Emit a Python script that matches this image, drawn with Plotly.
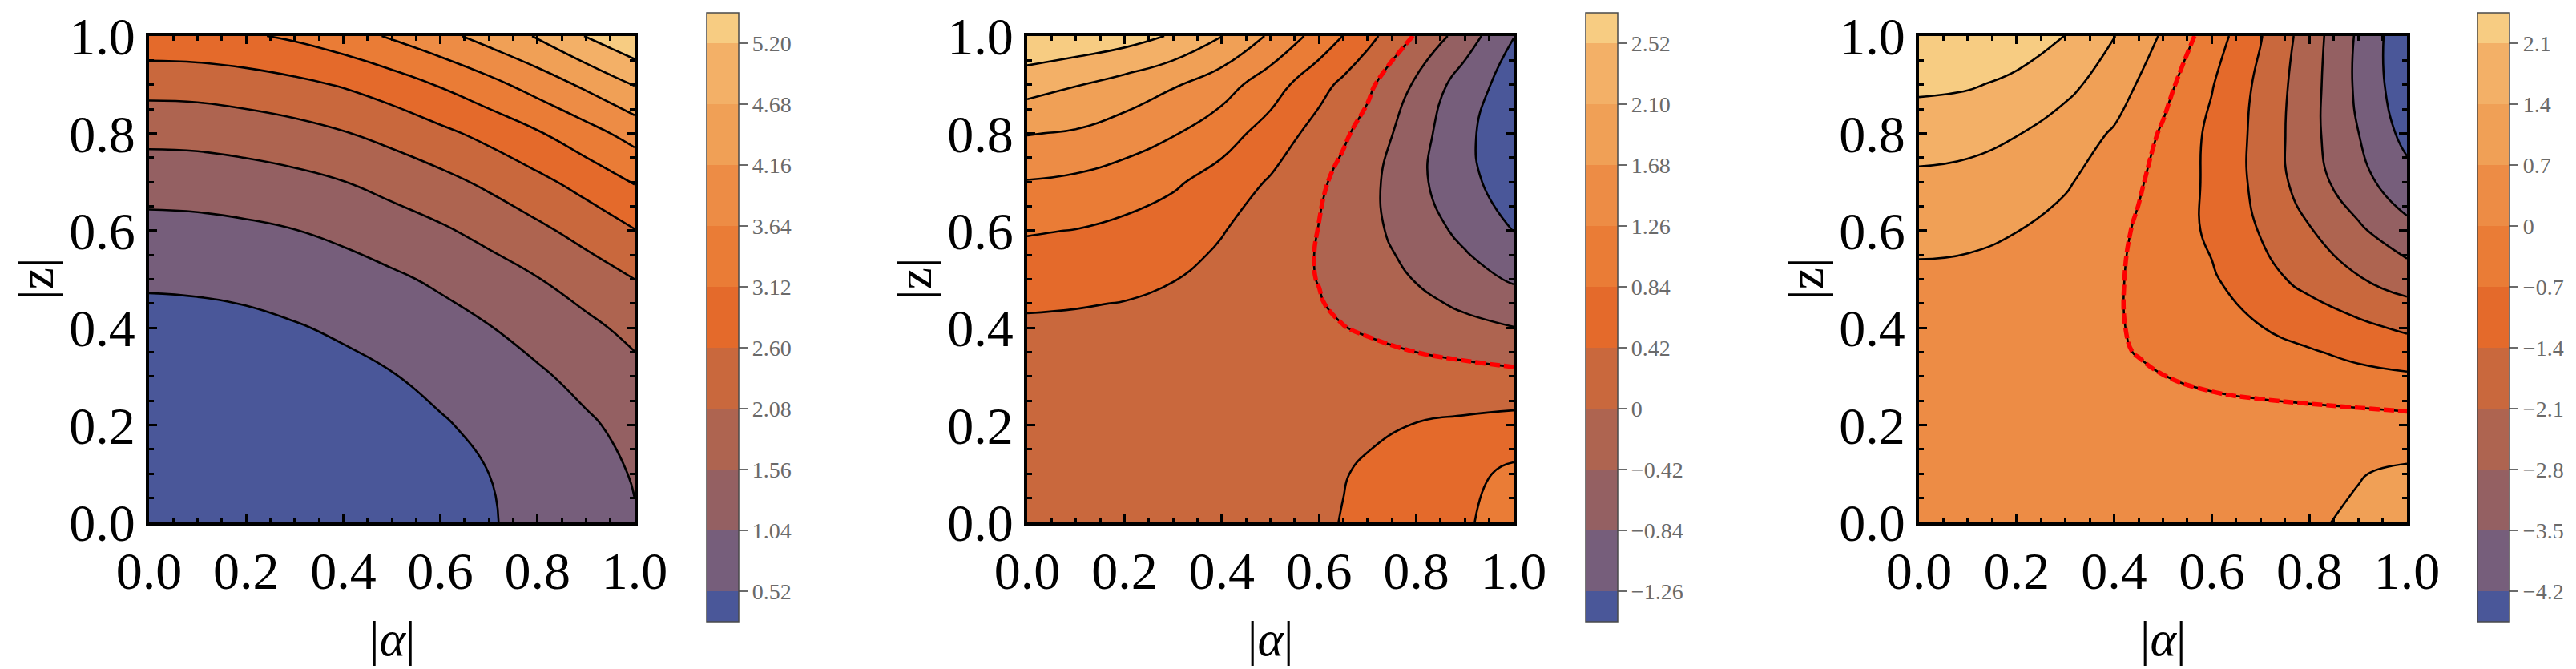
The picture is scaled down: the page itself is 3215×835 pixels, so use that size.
import plotly.graph_objects as go

# ---------------- data ----------------
# panel 1 grid
alpha1 = [0.0, 0.1, 0.2, 0.3, 0.4, 0.5, 0.6, 0.7, 0.8, 0.9, 1.0]
zgrid1 = [0.0, 0.1, 0.2, 0.3, 0.4, 0.5, 0.6, 0.7, 0.8, 0.9, 1.0]
# rows: |z| values of zgrid1 ; columns: |alpha| values of alpha1
panel1_values = [
    [0.00, 0.01, 0.04, 0.09, 0.16, 0.25, 0.36, 0.49, 0.64, 0.81, 1.01],
    [0.02, 0.03, 0.06, 0.11, 0.18, 0.28, 0.39, 0.52, 0.67, 0.86, 1.07],
    [0.09, 0.10, 0.13, 0.19, 0.26, 0.36, 0.48, 0.62, 0.78, 0.97, 1.19],
    [0.21, 0.22, 0.26, 0.32, 0.40, 0.50, 0.63, 0.79, 0.97, 1.18, 1.41],
    [0.37, 0.38, 0.42, 0.49, 0.58, 0.70, 0.85, 1.02, 1.22, 1.44, 1.70],
    [0.58, 0.60, 0.64, 0.72, 0.82, 0.96, 1.12, 1.32, 1.54, 1.80, 2.08],
    [0.88, 0.90, 0.95, 1.03, 1.15, 1.31, 1.49, 1.71, 1.97, 2.26, 2.58],
    [1.25, 1.27, 1.33, 1.42, 1.55, 1.73, 1.93, 2.18, 2.47, 2.79, 3.15],
    [1.71, 1.73, 1.80, 1.90, 2.05, 2.24, 2.48, 2.75, 3.07, 3.44, 3.84],
    [2.26, 2.28, 2.36, 2.48, 2.64, 2.86, 3.16, 3.48, 3.86, 4.26, 4.70],
    [2.95, 2.98, 3.06, 3.20, 3.41, 3.70, 4.00, 4.36, 4.72, 5.22, 5.65],
]

# panel 2 grid
alpha2 = [0.0, 0.1, 0.2, 0.3, 0.4, 0.5, 0.6, 0.65, 0.7, 0.8, 0.9, 1.0]
zgrid2 = [0.0, 0.1, 0.15, 0.2, 0.3, 0.4, 0.45, 0.5, 0.55, 0.6, 0.7, 0.8, 0.9, 1.0]
panel2_values = [
    [0.25, 0.25, 0.25, 0.26, 0.28, 0.32, 0.38, 0.43, 0.48, 0.62, 0.80, 1.00],
    [0.26, 0.26, 0.26, 0.27, 0.29, 0.32, 0.37, 0.41, 0.45, 0.58, 0.74, 0.92],
    [0.27, 0.27, 0.27, 0.275, 0.29, 0.31, 0.35, 0.38, 0.415, 0.51, 0.62, 0.75],
    [0.28, 0.28, 0.28, 0.28, 0.29, 0.30, 0.33, 0.35, 0.37, 0.43, 0.49, 0.56],
    [0.31, 0.31, 0.30, 0.30, 0.29, 0.28, 0.26, 0.245, 0.23, 0.19, 0.15, 0.10],
    [0.36, 0.35, 0.34, 0.31, 0.27, 0.20, 0.09, 0.01, -0.05, -0.19, -0.31, -0.41],
    [0.46, 0.44, 0.41, 0.36, 0.29, 0.18, 0.02, -0.07, -0.15, -0.32, -0.49, -0.65],
    [0.62, 0.57, 0.51, 0.43, 0.30, 0.14, -0.01, -0.12, -0.22, -0.44, -0.67, -0.89],
    [0.74, 0.70, 0.63, 0.53, 0.37, 0.18, -0.02, -0.14, -0.26, -0.54, -0.81, -1.08],
    [0.87, 0.83, 0.74, 0.62, 0.44, 0.23, -0.01, -0.16, -0.30, -0.64, -0.94, -1.27],
    [1.24, 1.18, 1.06, 0.90, 0.67, 0.38, 0.07, -0.12, -0.30, -0.74, -1.14, -1.48],
    [1.70, 1.64, 1.48, 1.29, 1.02, 0.67, 0.26, 0.06, -0.15, -0.67, -1.17, -1.55],
    [2.27, 2.12, 1.94, 1.72, 1.44, 1.03, 0.56, 0.33, 0.09, -0.49, -1.05, -1.45],
    [2.90, 2.82, 2.70, 2.48, 2.11, 1.62, 1.10, 0.83, 0.55, -0.04, -0.63, -1.25],
]

# panel 3 grid
alpha3 = [0.0, 0.1, 0.2, 0.3, 0.4, 0.45, 0.5, 0.6, 0.7, 0.8, 0.9, 1.0]
zgrid3 = [0.0, 0.1, 0.2, 0.3, 0.35, 0.4, 0.5, 0.6, 0.7, 0.8, 0.9, 1.0]
panel3_values = [
    [0.35, 0.35, 0.35, 0.36, 0.37, 0.38, 0.39, 0.43, 0.50, 0.62, 0.80, 1.00],
    [0.35, 0.35, 0.35, 0.36, 0.37, 0.375, 0.38, 0.41, 0.46, 0.54, 0.67, 0.82],
    [0.36, 0.36, 0.36, 0.36, 0.36, 0.36, 0.36, 0.36, 0.35, 0.33, 0.29, 0.24],
    [0.38, 0.37, 0.35, 0.31, 0.20, 0.11, 0.01, -0.16, -0.30, -0.42, -0.52, -0.61],
    [0.40, 0.39, 0.36, 0.29, 0.09, -0.03, -0.10, -0.30, -0.49, -0.64, -0.86, -1.06],
    [0.43, 0.42, 0.38, 0.27, 0.06, -0.07, -0.20, -0.44, -0.68, -0.96, -1.24, -1.51],
    [0.56, 0.54, 0.48, 0.33, 0.08, -0.11, -0.30, -0.62, -1.15, -1.62, -2.05, -2.43],
    [0.90, 0.84, 0.71, 0.46, 0.15, -0.07, -0.30, -0.82, -1.44, -2.05, -2.68, -3.30],
    [1.25, 1.18, 1.02, 0.78, 0.32, 0.06, -0.20, -0.85, -1.60, -2.48, -3.25, -3.95],
    [1.72, 1.64, 1.43, 1.08, 0.63, 0.28, -0.08, -0.85, -1.60, -2.58, -3.49, -4.42],
    [2.23, 2.16, 1.97, 1.58, 1.06, 0.65, 0.22, -0.66, -1.56, -2.52, -3.63, -4.68],
    [2.65, 2.58, 2.42, 2.09, 1.42, 1.02, 0.62, -0.34, -1.36, -2.45, -3.60, -4.75],
]

# contour levels (= colorbar ticks) and their labels
panel1_levels = [0.52, 1.04, 1.56, 2.08, 2.60, 3.12, 3.64, 4.16, 4.68, 5.20]
panel1_labels = ["0.52", "1.04", "1.56", "2.08", "2.60", "3.12", "3.64", "4.16", "4.68", "5.20"]
panel2_levels = [-1.26, -0.84, -0.42, 0.0, 0.42, 0.84, 1.26, 1.68, 2.10, 2.52]
panel2_labels = ["\u22121.26", "\u22120.84", "\u22120.42", "0", "0.42", "0.84", "1.26", "1.68", "2.10", "2.52"]
panel3_levels = [-4.2, -3.5, -2.8, -2.1, -1.4, -0.7, 0.0, 0.7, 1.4, 2.1]
panel3_labels = ["\u22124.2", "\u22123.5", "\u22122.8", "\u22122.1", "\u22121.4", "\u22120.7", "0", "0.7", "1.4", "2.1"]

band_colors = ["#4a5799", "#765e7b", "#946062", "#ae6450", "#c9683d",
               "#e46a2b", "#ea7c36", "#ed8c45", "#f0a056", "#f3b067", "#f7cc82"]

# ---------------- layout helpers (pixel geometry) ----------------
W, H = 3215, 835
def xp(px):
    return px / W
def yp(py):
    return 1 - py / H

SERIF = "Liberation Serif, Times New Roman, serif"
plot_left = [178, 1274, 2387]
plot_right = [784, 1881, 2996]
plot_top, plot_bottom = 37, 644
cbar_left = [874, 1971, 3084]

panels = [
    (alpha1, zgrid1, panel1_values, panel1_levels, panel1_labels, False),
    (alpha2, zgrid2, panel2_values, panel2_levels, panel2_labels, True),
    (alpha3, zgrid3, panel3_values, panel3_levels, panel3_labels, True),
]

colorscale = [[i / (len(band_colors) - 1), c] for i, c in enumerate(band_colors)]

fig = go.Figure()
annotations = []
for k, (ax_vals, zz_vals, vals, levels, labels, zero_line) in enumerate(panels):
    xa = "x" if k == 0 else f"x{k+1}"
    ya = "y" if k == 0 else f"y{k+1}"
    step = round(levels[1] - levels[0], 6)
    cont = dict(start=levels[0], end=levels[-1] + step * 1e-3, size=step)
    # filled bands (no lines, so the colorbar shows plain bands)
    fig.add_trace(go.Contour(
        x=ax_vals, y=zz_vals, z=vals, xaxis=xa, yaxis=ya,
        autocontour=False,
        contours=dict(coloring="fill", showlines=False, **cont),
        line=dict(width=0, smoothing=1.3),
        colorscale=colorscale,
        hoverinfo="skip",
        colorbar=dict(
            x=xp(cbar_left[k]), xanchor="left", xpad=0,
            y=yp(768), yanchor="bottom", ypad=0,
            len=760, lenmode="pixels", thickness=40, thicknessmode="pixels",
            tickmode="array", tickvals=levels, ticktext=labels,
            ticks="outside", ticklen=11, tickwidth=1.5, tickcolor="#6a6a6a",
            tickfont=dict(family=SERIF, size=28, color="#6a6a6a"),
            outlinewidth=1.5, outlinecolor="#4a4a4a",
        ),
    ))
    # black contour lines
    fig.add_trace(go.Contour(
        x=ax_vals, y=zz_vals, z=vals, xaxis=xa, yaxis=ya,
        autocontour=False,
        contours=dict(coloring="none", showlines=True, **cont),
        line=dict(color="black", width=2.6, smoothing=1.3),
        showscale=False, hoverinfo="skip",
    ))
    if zero_line:
        fig.add_trace(go.Contour(
            x=ax_vals, y=zz_vals, z=vals, xaxis=xa, yaxis=ya,
            autocontour=False,
            contours=dict(start=0, end=0, size=1, coloring="none"),
            line=dict(color="red", width=5.5, dash="13px,5px", smoothing=1.3),
            showscale=False, hoverinfo="skip",
        ))

    axis_common = dict(
        range=[0, 1], tick0=0, dtick=0.2, tickformat=".1f",
        ticks="inside", ticklen=10, tickwidth=3, tickcolor="black",
        minor=dict(dtick=0.05, tick0=0, ticks="inside", ticklen=6, tickwidth=2.5, tickcolor="black"),
        showline=True, linewidth=4, linecolor="black", mirror="ticks",
        showgrid=False, zeroline=False, automargin=False,
        tickfont=dict(family=SERIF, size=66, color="black"),
    )
    xkey = "xaxis" if k == 0 else f"xaxis{k+1}"
    ykey = "yaxis" if k == 0 else f"yaxis{k+1}"
    fig.update_layout(**{
        xkey: dict(domain=[xp(plot_left[k]), xp(plot_right[k])], anchor=ya, **axis_common),
        ykey: dict(domain=[yp(plot_bottom), yp(plot_top)], anchor=xa, **axis_common),
    })

    cx = (plot_left[k] + plot_right[k]) / 2
    annotations.append(dict(text="|<i>\u03b1</i>|", x=xp(cx), y=yp(789), xref="paper", yref="paper",
                            showarrow=False, xanchor="center", yanchor="middle",
                            font=dict(family=SERIF, size=62, color="black")))
    annotations.append(dict(text="|z|", x=xp(plot_left[k] - 141), y=yp(340), xref="paper", yref="paper",
                            showarrow=False, xanchor="center", yanchor="middle", textangle=-90,
                            font=dict(family=SERIF, size=62, color="black")))

fig.update_layout(
    width=W, height=H,
    margin=dict(l=0, r=0, t=0, b=0, pad=0, autoexpand=False),
    paper_bgcolor="white", plot_bgcolor="white",
    showlegend=False,
    annotations=annotations,
)

fig.write_html("out.html")
